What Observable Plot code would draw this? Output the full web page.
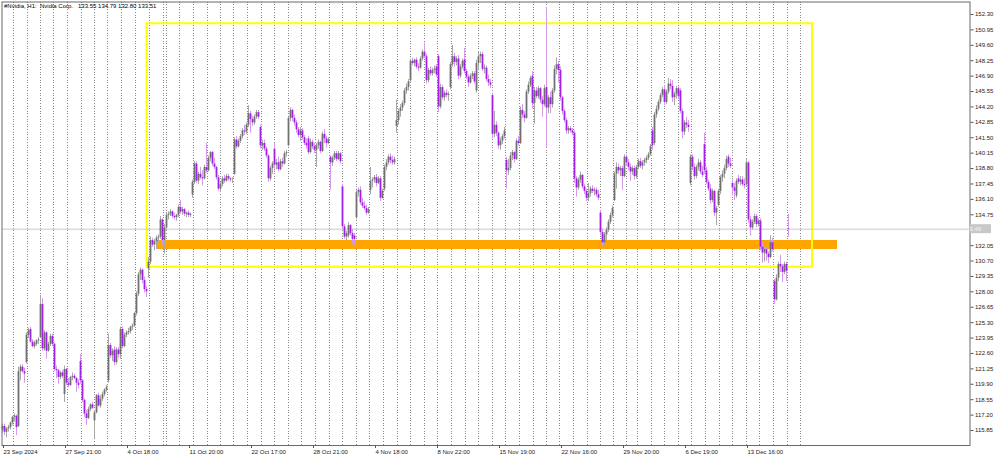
<!DOCTYPE html>
<html><head><meta charset="utf-8">
<script src="https://cdn.jsdelivr.net/npm/d3@7"></script>
<script src="https://cdn.jsdelivr.net/npm/@observablehq/plot@0.6"></script>
<style>
html,body{margin:0;padding:0;background:#fff;}
#chart svg{display:block;}
</style></head><body><div id="chart"></div>
<script>
// Hourly bars, #Nvidia H1 (bar index 0 = 23 Sep 2024)
const open = [
115.9,116.2,115.7,116.0,116.1,116.5,117.0,117.1,116.2,121.0,
121.4,121.0,121.8,124.2,124.7,123.6,123.2,123.4,123.7,124.0,
126.9,123.0,124.4,122.8,123.4,124.1,123.4,121.2,121.1,120.5,
120.9,119.0,121.2,120.0,119.8,120.5,120.6,120.4,120.0,121.9,
120.2,118.5,117.3,116.9,117.7,118.1,116.7,117.4,118.9,118.0,
118.6,119.0,119.4,120.2,123.3,122.4,122.9,121.8,122.9,122.5,
124.7,123.2,124.2,124.4,124.5,124.9,125.0,126.1,127.8,129.5,
129.9,129.0,128.2,130.0,130.6,132.5,132.1,132.4,132.7,132.8,
134.3,132.5,133.6,134.7,134.8,135.0,134.6,134.5,134.7,135.4,
135.0,135.2,134.8,134.9,134.7,136.5,137.6,139.2,137.7,138.3,
138.0,137.9,138.9,138.6,139.7,140.2,139.2,138.9,138.0,137.0,
137.4,137.9,137.7,138.1,137.9,137.8,138.3,141.3,140.7,141.2,
141.6,142.1,142.0,142.6,143.6,143.1,142.8,143.3,143.7,142.4,
140.8,141.0,140.5,139.9,137.9,138.8,140.5,139.1,139.3,138.7,
139.4,139.2,140.1,140.8,143.2,143.9,143.2,142.8,142.2,141.7,
142.1,141.5,141.0,141.4,140.2,141.1,140.7,140.4,140.8,141.1,
140.3,141.8,141.4,141.0,139.8,139.3,139.7,140.1,139.6,140.1,
137.2,133.7,132.8,132.9,133.8,133.1,132.9,134.5,136.7,136.9,
135.8,135.5,135.3,134.9,136.9,137.7,137.8,138.0,137.5,137.9,
136.2,137.0,138.9,139.3,139.8,139.5,139.3,142.5,143.0,143.8,
144.1,144.5,145.6,145.9,146.5,148.2,148.0,148.3,147.7,147.6,
148.4,149.0,148.6,146.5,147.4,147.1,147.4,147.7,148.6,144.2,
145.9,145.0,145.4,145.2,145.9,147.9,148.6,148.1,148.4,146.9,
147.7,148.3,147.3,146.8,146.3,146.9,147.1,145.6,148.0,148.6,
148.8,147.5,147.6,146.6,146.3,145.2,141.8,142.6,141.9,140.8,
141.2,141.6,139.5,138.6,138.8,139.9,140.2,139.6,141.2,141.0,
143.9,143.5,143.2,145.5,146.1,146.9,144.5,145.6,145.1,145.8,
144.8,144.4,145.9,144.1,145.0,144.4,145.6,147.5,147.9,147.4,
145.0,143.8,143.0,142.1,142.3,142.1,141.9,137.9,137.1,137.8,
138.2,137.2,136.8,136.2,136.6,137.0,136.8,136.9,136.5,134.9,
133.2,132.3,133.0,133.4,134.1,134.7,136.0,138.3,138.9,138.6,
138.8,138.1,139.8,139.3,138.9,138.5,138.8,138.1,138.9,139.4,
139.0,139.3,139.5,139.7,140.0,142.1,141.0,143.5,144.0,144.6,
145.2,145.7,144.6,145.5,146.2,146.0,145.0,145.3,145.8,145.6,
143.8,142.0,142.8,142.6,137.5,139.8,138.9,138.1,138.9,139.3,
138.5,140.9,138.6,137.6,137.0,136.0,136.8,134.9,135.6,136.8,
138.0,138.3,138.8,139.8,139.2,137.5,137.1,136.4,137.9,137.6,
137.8,137.4,137.4,139.3,134.3,133.6,134.1,134.6,133.9,134.2,
131.9,131.4,131.7,131.3,131.0,132.3,128.9,127.3,129.2,130.4,
130.2,129.7,130.4,133.55];
const high = [
116.4,116.4,116.1,116.3,116.6,117.1,117.3,117.2,121.4,121.6,
121.6,121.3,124.4,124.8,124.9,123.8,123.7,123.8,124.0,127.7,
127.4,124.6,124.5,123.6,124.3,124.3,123.5,121.5,121.2,121.0,
121.1,121.5,121.3,120.4,120.6,120.9,120.8,120.5,120.3,122.5,
120.3,118.6,117.6,117.9,118.2,118.3,117.6,119.0,119.1,118.9,
119.2,119.5,119.8,124.3,123.5,123.0,123.2,123.1,123.1,124.9,
124.9,124.4,124.6,124.8,125.0,125.2,126.2,128.0,129.7,130.1,
130.0,129.3,128.5,131.0,132.8,132.7,132.6,132.9,133.0,134.6,
134.4,133.9,134.9,135.0,135.2,135.1,134.9,134.8,135.6,136.0,
135.4,135.3,135.0,135.1,134.9,137.8,139.4,139.4,138.5,138.9,
138.6,139.1,141.0,139.9,140.3,140.3,139.7,139.0,138.2,137.6,
138.1,138.2,138.3,138.3,138.0,138.0,141.5,141.6,141.4,141.8,
142.3,142.6,142.8,144.3,143.8,143.4,143.5,143.9,143.9,142.6,
141.3,141.3,140.7,140.0,139.0,139.4,141.0,139.6,139.8,139.6,
139.7,140.3,140.4,143.4,144.1,144.0,143.5,143.0,142.4,142.4,
142.3,141.7,141.4,141.6,141.4,141.3,141.0,141.0,141.3,141.2,
142.0,142.2,141.6,141.5,139.9,139.9,140.3,140.3,140.3,140.2,
137.4,133.9,133.3,134.1,133.9,133.5,133.1,137.0,137.1,137.2,
136.2,135.9,135.6,135.4,138.9,138.0,138.2,138.3,138.1,138.1,
137.0,139.1,139.6,140.0,140.1,139.9,139.8,144.8,144.0,144.4,
144.7,145.8,146.2,146.6,148.4,148.5,148.4,148.5,148.0,148.6,
149.2,149.8,148.8,147.6,147.7,147.6,147.8,147.9,148.8,146.2,
146.1,145.6,145.7,145.5,148.1,149.6,148.9,148.6,148.7,147.9,
148.4,149.3,147.5,147.0,147.1,147.3,147.3,148.3,149.0,149.0,
149.0,147.9,147.8,147.0,146.6,145.4,143.8,142.9,142.0,141.5,
141.8,142.4,139.8,139.6,140.2,140.4,140.3,141.4,141.6,144.2,
144.4,143.8,145.7,146.4,146.9,147.3,145.9,145.9,146.0,145.9,
145.1,146.1,152.9,145.2,145.5,145.8,147.8,148.5,148.2,147.7,
145.1,144.0,143.2,142.5,142.5,142.3,142.1,138.1,138.0,138.5,
138.3,137.4,137.0,137.5,137.2,137.3,137.1,137.1,136.9,135.1,
133.5,133.2,133.6,134.3,134.9,135.5,138.5,139.3,139.2,139.0,
139.0,140.0,140.0,139.6,139.2,139.0,139.0,139.1,139.6,139.7,
139.5,139.7,139.9,140.2,140.9,142.4,143.7,144.3,144.8,145.4,
145.9,146.1,145.7,146.7,146.6,146.5,145.5,146.0,146.0,145.8,
144.0,143.0,143.3,143.0,140.0,140.0,139.2,139.1,139.6,139.5,
139.0,141.9,138.9,137.8,137.4,137.0,136.9,135.5,137.0,138.2,
138.6,139.1,139.9,140.0,139.7,137.8,137.5,137.9,138.2,138.1,
138.1,137.9,139.6,139.4,134.6,134.3,134.8,134.8,134.4,134.4,
132.3,131.9,131.9,131.5,132.9,132.7,129.1,129.5,130.6,131.2,
130.4,130.6,130.6,134.79];
const low = [
115.6,115.4,115.2,115.7,115.9,116.3,116.6,115.4,116.1,120.2,
120.9,120.0,121.7,123.9,123.5,123.1,123.0,123.2,123.4,123.9,
122.8,122.8,122.1,122.7,123.2,123.2,121.0,120.4,119.9,120.3,
120.4,118.3,119.8,119.6,119.7,120.2,120.3,119.2,119.5,119.9,
118.3,117.0,116.3,116.8,117.5,117.7,115.1,117.3,117.9,117.8,
118.4,118.8,119.2,120.0,122.2,121.9,121.5,121.6,122.2,122.1,
123.0,123.1,124.0,124.2,124.3,124.6,124.9,125.9,127.6,129.0,
128.7,127.9,127.5,129.2,130.4,131.9,131.6,131.7,132.3,132.6,
132.1,131.3,133.4,134.3,134.6,134.4,134.3,134.2,134.5,134.8,
134.7,134.6,134.5,134.5,134.5,136.2,137.4,137.5,137.4,137.8,
137.3,137.8,138.4,138.5,139.4,139.0,138.7,137.8,136.8,136.7,
137.2,137.5,137.6,137.7,137.6,137.5,138.2,140.5,140.6,141.0,
141.4,141.7,141.8,142.4,141.9,142.5,142.6,143.1,143.1,140.5,
140.4,140.3,139.7,137.6,137.7,138.3,138.5,138.7,138.5,138.6,
138.9,139.1,139.8,140.7,142.9,142.9,142.5,141.9,141.5,141.2,
141.3,140.8,140.5,140.0,140.1,140.5,140.1,138.9,140.5,140.1,
140.2,141.0,140.6,140.9,136.9,139.0,139.5,139.4,139.5,139.2,
133.5,132.6,132.5,132.7,132.9,132.2,132.0,134.3,136.3,135.6,
135.3,135.1,134.7,134.8,136.5,137.1,137.5,137.2,137.4,135.9,
136.1,136.8,138.6,139.1,139.2,139.1,139.1,141.9,142.6,143.3,
143.8,144.3,145.3,145.6,146.3,147.8,147.7,147.5,147.3,147.5,
148.2,148.4,146.2,146.3,146.9,146.9,147.1,146.8,143.7,144.0,
144.8,144.7,145.0,144.7,145.7,147.7,147.7,147.8,146.6,146.7,
147.5,147.1,146.6,145.9,146.2,146.6,146.2,145.4,147.5,148.0,
147.3,147.1,146.4,146.0,145.8,141.4,141.5,141.6,140.5,140.4,
140.9,141.4,137.0,138.2,138.6,139.5,139.3,139.5,140.8,140.9,
143.2,142.8,143.1,145.3,145.9,144.0,142.7,144.9,144.9,144.5,
143.3,144.2,140.6,143.6,143.6,144.1,145.4,147.0,146.3,144.7,
143.5,142.8,141.8,141.8,141.9,141.7,137.5,136.3,136.9,137.5,
137.0,136.5,135.9,135.9,136.3,136.6,136.4,136.3,136.0,132.9,
132.0,132.0,132.5,133.2,133.9,134.5,135.9,137.0,138.3,138.1,
136.9,138.0,139.0,138.6,137.7,138.2,137.8,137.9,138.7,138.8,
138.7,139.0,139.2,139.5,139.9,140.4,140.8,143.2,143.8,144.4,
145.0,144.3,144.4,145.3,145.7,144.6,144.3,144.9,144.9,143.6,
141.4,141.7,142.3,142.0,137.3,138.6,137.8,137.9,138.6,138.3,
138.0,138.3,137.4,136.8,135.7,135.8,134.6,133.8,135.4,136.5,
137.6,137.9,138.6,138.9,138.8,136.4,136.0,136.2,137.4,137.3,
137.2,137.0,137.2,134.0,132.9,133.4,133.9,133.6,133.7,131.6,
130.5,130.6,130.7,130.5,130.9,131.5,126.9,127.2,128.9,129.7,
128.8,129.5,128.9,132.80];
const close = [
116.2,115.7,116.0,116.1,116.5,117.0,117.1,116.1,121.0,121.4,
121.0,120.8,124.2,124.6,123.6,123.2,123.5,123.7,123.8,126.9,
123.0,124.4,122.8,123.4,124.1,123.4,121.2,121.1,120.5,120.9,
120.6,121.2,120.0,119.8,120.5,120.6,120.4,120.0,119.8,120.2,
118.5,117.3,116.9,117.7,118.1,117.8,117.4,118.9,118.0,118.6,
119.0,119.4,119.6,123.3,122.4,122.8,121.8,122.9,122.5,124.7,
123.2,124.2,124.4,124.5,124.9,125.0,126.1,127.8,129.5,129.9,
129.0,128.2,128.0,130.6,132.5,132.1,132.4,132.7,132.8,134.3,
132.5,133.6,134.7,134.8,135.0,134.6,134.5,134.7,135.4,135.0,
135.2,134.8,134.9,134.7,134.8,137.6,139.2,137.7,138.3,138.0,
137.9,138.9,138.6,139.7,140.2,139.2,138.9,138.0,137.0,137.4,
137.9,137.7,138.1,137.9,137.8,137.8,141.3,140.7,141.2,141.6,
142.1,142.0,142.6,143.6,143.1,142.8,143.3,143.7,143.3,140.8,
141.0,140.5,139.9,137.9,138.8,139.2,139.1,139.3,138.7,139.4,
139.2,140.1,140.2,143.2,143.9,143.2,142.8,142.2,141.7,142.1,
141.5,141.0,140.8,140.2,141.1,140.7,140.4,140.8,141.1,140.3,
141.8,141.4,141.0,141.3,139.3,139.7,140.1,139.6,140.1,139.4,
133.7,132.8,133.1,133.8,133.1,132.6,132.6,136.7,136.9,135.8,
135.5,135.3,134.9,135.2,137.7,137.8,138.0,137.5,137.9,136.2,
136.8,138.9,139.3,139.8,139.5,139.3,139.6,143.0,143.8,144.1,
144.5,145.6,145.9,146.4,148.2,148.0,148.3,147.7,147.6,148.4,
149.0,148.6,146.5,147.4,147.1,147.4,147.5,147.0,144.2,145.9,
145.0,145.4,145.2,145.3,147.9,148.6,148.1,148.4,146.9,147.7,
148.2,147.3,146.8,146.3,146.9,147.1,146.4,148.0,148.6,148.8,
147.5,147.6,146.6,146.3,146.1,141.8,142.6,141.9,140.8,141.2,
141.6,142.1,138.6,138.8,139.9,140.2,139.6,141.2,141.0,143.9,
143.5,143.2,145.5,146.1,146.7,144.5,145.6,145.1,145.8,144.8,
144.4,145.8,144.1,145.0,144.4,145.6,147.5,147.9,147.4,145.0,
143.8,143.0,142.1,142.3,142.1,141.9,137.9,137.1,137.8,138.2,
137.2,136.8,136.2,136.6,137.0,136.8,136.9,136.5,136.2,133.2,
132.3,133.0,133.4,134.1,134.7,135.3,138.3,138.9,138.6,138.8,
138.1,139.8,139.3,138.9,138.5,138.8,138.1,138.9,139.4,139.0,
139.3,139.5,139.7,140.0,140.7,140.8,143.5,144.0,144.6,145.2,
145.7,144.6,145.5,146.2,146.0,145.0,145.3,145.8,145.1,143.8,
142.0,142.8,142.6,142.4,139.8,138.9,138.1,138.9,139.3,138.5,
138.2,138.6,137.6,137.0,136.0,136.8,134.9,135.3,136.8,138.0,
138.3,138.8,139.6,139.2,139.0,137.1,136.8,137.7,137.6,137.8,
137.4,137.3,139.3,134.3,133.6,134.1,134.6,133.9,134.2,131.9,
131.4,131.7,131.3,131.0,132.3,131.7,127.3,129.2,130.4,130.2,
129.7,130.4,129.8,133.51];

// time axis labels (bar index -> label)
const xTickBars = [0,31,62,93,124,155,186,217,248,279,310,341,372];
const xTickLabels = ["23 Sep 2024","27 Sep 21:00","4 Oct 18:00","11 Oct 20:00","22 Oct 17:00","28 Oct 21:00","4 Nov 18:00","8 Nov 22:00","15 Nov 19:00","22 Nov 16:00","29 Nov 20:00","6 Dec 19:00","13 Dec 16:00"];
// price axis labels (133.40 sits under the current-price tag)
const yTicks = [115.85,117.20,118.55,119.90,121.25,122.60,123.95,125.30,126.65,128.00,129.35,130.70,132.05,134.75,136.10,137.45,138.80,140.15,141.50,142.85,144.20,145.55,146.90,148.25,149.60,150.95,152.30];
// day separators (bar positions of the dotted grid)
const gridBars = [5.35,12.35,19,25.65,32.35,39.35,46,52.65,59.65,66.35,73.35,80.35,82,88.65,95.65,102.35,109,115.65,122.65,129.35,136,143,149.65,156.65,163.35,170,177,183.65,190.35,197.35,204,211,217.65,224.65,231.35,238,245,251.65,258.35,265.35,272,278.65,285.65,292.35,299,305.65,312,317.65,324.35,331,338,344.65,351.65,358.35,365,372,378.65,385.35,392.35,399];
// chart objects (bar index / price)
const rangeBox = [{from:72.35, to:405, low:130.16, high:151.49}];
const supportZone = [{from:77, to:417.5, low:131.71, high:132.50}];
const bidPrice = [133.49];
const header = ["#Nvidia, H1:  Nvidia Corp.   133.55 134.79 132.80 133.51"];

const bars = close.map((c, i) => ({i, o: open[i], h: high[i], l: low[i], c}));
const up = bars.filter(d => d.c >= d.o);
const down = bars.filter(d => d.c < d.o);

const font = "'Liberation Sans', Arial, sans-serif";
const fs = "6px";
const chart = Plot.plot({
  width: 1000, height: 457,
  marginLeft: 1.5, marginRight: 30.5, marginTop: 1.5, marginBottom: 12,
  style: {fontFamily: font, fontSize: fs, color: "#000", background: "#fff"},
  x: {domain: [-0.25, 483.75], axis: null},
  y: {domain: [114.536, 153.395], axis: null},
  marks: [
    Plot.ruleX(gridBars, {x: d => d, stroke: "#8a8a8a", strokeWidth: 1, strokeDasharray: "1,1.6", shapeRendering: "crispEdges"}),
    Plot.rect(supportZone, {x1: "from", x2: "to", y1: "low", y2: "high", fill: "#ffa500"}),
    Plot.rect(rangeBox, {x1: "from", x2: "to", y1: "low", y2: "high", fill: "none", stroke: "#ffff00", strokeWidth: 2}),
    Plot.ruleY(bidPrice, {y: d => d, stroke: "#c8c8c8", strokeWidth: 1}),
    Plot.ruleX(up, {x: "i", y1: "l", y2: "h", stroke: "#a8a8a8", strokeWidth: 1}),
    Plot.ruleX(down, {x: "i", y1: "l", y2: "h", stroke: "#d59be9", strokeWidth: 1}),
    Plot.ruleX(up, {x: "i", y1: "o", y2: "c", stroke: "#707070", strokeWidth: 1.8}),
    Plot.ruleX(down, {x: "i", y1: "o", y2: "c", stroke: "#a020e8", strokeWidth: 1.8}),
    Plot.frame({stroke: "#6a6a6a", strokeWidth: 1}),
    Plot.axisX({ticks: xTickBars, tickFormat: d => xTickLabels[xTickBars.indexOf(d)], tickSize: 3, tickPadding: 1.5, textAnchor: "start", dx: 1, stroke: "#555", fill: "#222", fontSize: fs}),
    Plot.axisY({anchor: "right", ticks: yTicks, tickFormat: d => d.toFixed(2), tickSize: 3, tickPadding: 2, stroke: "#555", fill: "#222", fontSize: fs}),
    Plot.text(header, {text: d => d, frameAnchor: "top-left", dx: 2, dy: 2, textAnchor: "start", lineAnchor: "top", fill: "#000", fontSize: "6px"})
  ]
});
document.getElementById("chart").appendChild(chart);

// current price tag on the price axis
const ys = chart.scale("y");
const svg = d3.select(chart);
const yb = ys.apply(bidPrice[0]);
svg.append("rect").attr("x", 970).attr("y", yb - 4.5).attr("width", 21).attr("height", 9).attr("fill", "#c8c8c8");
svg.append("text").attr("x", 972).attr("y", yb).attr("dy", "0.35em").attr("fill", "#f4f4f4")
  .style("font-family", font).style("font-size", fs).text(bidPrice[0].toFixed(2));
</script></body></html>
